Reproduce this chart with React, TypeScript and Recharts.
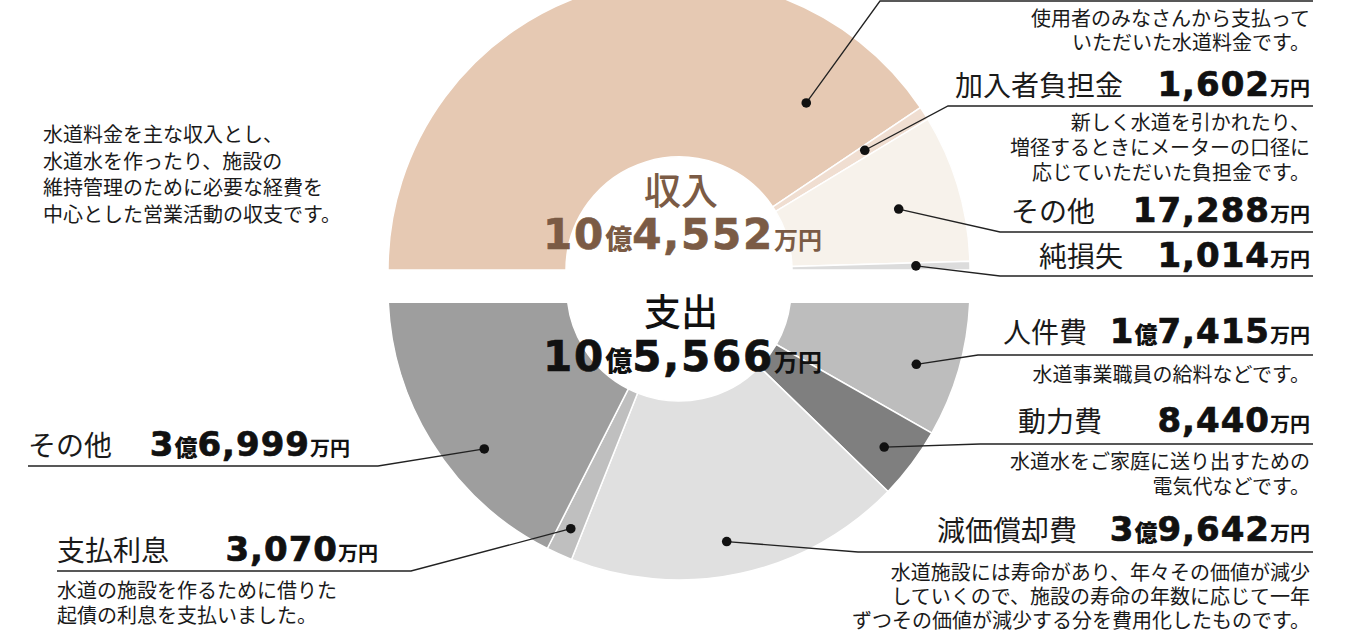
import React from "react";
import { PieChart, Pie, Cell } from "recharts";

const W = 1366;
const H = 642;
const CX = 679;
const TOP_CY = 270;
const BOTTOM_CY = 289;
const BOTTOM_CLIP = 303; // the lower half is cut flat at this y
const NO_MARGIN = { top: 0, right: 0, bottom: 0, left: 0 };

// 収入 (the last item, 純損失, fills the half up to the 支出 total)
const incomeNames = ["水道料金", "加入者負担金", "その他", "純損失"];
const incomeValues = [85662, 1602, 17288, 1014];
const incomeNotes = [
  ["使用者のみなさんから支払って", "いただいた水道料金です。"],
  ["新しく水道を引かれたり、", "増径するときにメーターの口径に", "応じていただいた負担金です。"],
  [],
  [],
];

// 支出
const expenseNames = ["人件費", "動力費", "減価償却費", "支払利息", "その他"];
const expenseValues = [17415, 8440, 39642, 3070, 36999];
const expenseNotes = [
  ["水道事業職員の給料などです。"],
  ["水道水をご家庭に送り出すための", "電気代などです。"],
  [
    "水道施設には寿命があり、年々その価値が減少",
    "していくので、施設の寿命の年数に応じて一年",
    "ずつその価値が減少する分を費用化したものです。",
  ],
  ["水道の施設を作るために借りた", "起債の利息を支払いました。"],
  [],
];

const introLines = [
  "水道料金を主な収入とし、",
  "水道水を作ったり、施設の",
  "維持管理のために必要な経費を",
  "中心とした営業活動の収支です。",
];

const incomeColors = ["#e6c9b3", "#f0ded1", "#f7f2eb", "#dcdcdc"];
const expenseColors = ["#bdbdbd", "#7f7f7f", "#e0e0e0", "#bfbfbf", "#9e9e9e"];

const JP = "'Noto Sans CJK JP', 'Noto Sans', sans-serif";
const NUM = "'DejaVu Sans', 'Liberation Sans', sans-serif";
const RAD = Math.PI / 180;

type Callout = {
  angle: number;
  r: number;
  elbow: [number, number];
  end: number;
  nameX?: number;
  nameAnchor?: "start" | "end";
  baseline?: number;
  valueX?: number;
  oku?: boolean;
  notesX: number;
  notesAnchor: "start" | "end";
  notesY: number[];
};

// label placement, page coordinates
const incomeCallouts: Callout[] = [
  { angle: 52.7, r: 210, elbow: [880, 1], end: 1313, notesX: 1310, notesAnchor: "end", notesY: [26, 50] },
  { angle: 32.8, r: 221, elbow: [948, 106], end: 1313, nameX: 1123, nameAnchor: "end", baseline: 96, valueX: 1310, notesX: 1310, notesAnchor: "end", notesY: [130, 155, 180] },
  { angle: 15.5, r: 228, elbow: [1000, 232], end: 1313, nameX: 1095, nameAnchor: "end", baseline: 222, valueX: 1310, oku: false, notesX: 1310, notesAnchor: "end", notesY: [] },
  { angle: 1.0, r: 237, elbow: [1000, 276], end: 1313, nameX: 1123, nameAnchor: "end", baseline: 267, valueX: 1310, notesX: 1310, notesAnchor: "end", notesY: [] },
];

const expenseCallouts: Callout[] = [
  { angle: -17.6, r: 249, elbow: [978, 355], end: 1313, nameX: 1087, nameAnchor: "end", baseline: 343, valueX: 1310, notesX: 1310, notesAnchor: "end", notesY: [382] },
  { angle: -37.6, r: 259, elbow: [980, 444], end: 1313, nameX: 1102, nameAnchor: "end", baseline: 432, valueX: 1310, notesX: 1310, notesAnchor: "end", notesY: [469, 494] },
  { angle: -79.3, r: 257, elbow: [858, 552], end: 1313, nameX: 1077, nameAnchor: "end", baseline: 541, valueX: 1310, notesX: 1310, notesAnchor: "end", notesY: [580, 604, 628] },
  { angle: -114.3, r: 263, elbow: [411, 571], end: 57, nameX: 57, nameAnchor: "start", baseline: 561, valueX: 378, notesX: 57, notesAnchor: "start", notesY: [598, 623] },
  { angle: -140.6, r: 252, elbow: [378, 466], end: 28, nameX: 28, nameAnchor: "start", baseline: 456, valueX: 350, notesX: 28, notesAnchor: "start", notesY: [] },
];

const sum = (a: number[]) => a.reduce((s, v) => s + v, 0);

const ValueText = ({ x, y, value, oku = true, big = 34, small = 20, fill = "#111", spacing = 1 }: any) => {
  const okuPart = oku && value >= 10000 ? Math.floor(value / 10000) : null;
  const rest = okuPart !== null ? value % 10000 : value;
  const digit = { fontFamily: NUM, fontWeight: 700, fontSize: big, stroke: fill, strokeWidth: 0.7, letterSpacing: spacing } as any;
  return (
    <text x={x} y={y} textAnchor="end" fill={fill}>
      {okuPart !== null && <tspan style={digit}>{okuPart}</tspan>}
      {okuPart !== null && (
        <tspan style={{ fontFamily: JP, fontWeight: 900, fontSize: small + 3 }}>億</tspan>
      )}
      <tspan style={digit}>{rest.toLocaleString("en-US")}</tspan>
      <tspan style={{ fontFamily: JP, fontWeight: 700, fontSize: small }}>万円</tspan>
    </text>
  );
};

const makeLabel = (callouts: Callout[], names: string[], values: number[], notes: string[][], offY: number) =>
  (props: any) => {
    const { cx, cy, index } = props;
    const c = callouts[index];
    if (!c) return null;
    const dx = cx + c.r * Math.cos(-c.angle * RAD);
    const dy = cy + c.r * Math.sin(-c.angle * RAD);
    const ey = c.elbow[1] - offY;
    return (
      <g>
        <polyline
          points={`${dx},${dy} ${c.elbow[0]},${ey} ${c.end},${ey}`}
          fill="none"
          stroke="#222"
          strokeWidth={1.3}
        />
        <circle cx={dx} cy={dy} r={4.8} fill="#111" />
        {c.baseline !== undefined && (
          <text
            x={c.nameX}
            y={c.baseline - offY}
            textAnchor={c.nameAnchor}
            style={{ fontFamily: JP, fontSize: 28, fontWeight: 400 }}
            fill="#1a1a1a"
          >
            {names[index]}
          </text>
        )}
        {c.baseline !== undefined && (
          <ValueText x={c.valueX} y={c.baseline - offY} value={values[index]} oku={c.oku !== false} />
        )}
        {notes[index].map((line, i) => (
          <text
            key={i}
            x={c.notesX}
            y={c.notesY[i] - offY}
            textAnchor={c.notesAnchor}
            style={{ fontFamily: JP, fontSize: 20 }}
            fill="#1a1a1a"
          >
            {line}
          </text>
        ))}
      </g>
    );
  };

const incomeData = incomeNames.map((name, i) => ({ name, value: incomeValues[i] }));
const expenseData = expenseNames.map((name, i) => ({ name, value: expenseValues[i] }));

export default function App() {
  const incomeTotal = sum(incomeValues.slice(0, incomeValues.length - 1));
  const expenseTotal = sum(expenseValues);

  return (
    <div style={{ position: "absolute", left: 0, top: 0, width: W, height: H, background: "#fff", overflow: "hidden" }}>
      {/* 支出 half, clipped flat at the top */}
      <div style={{ position: "absolute", left: 0, top: BOTTOM_CLIP, width: W, height: H - BOTTOM_CLIP, overflow: "hidden" }}>
        <PieChart width={W} height={H - BOTTOM_CLIP} margin={NO_MARGIN}>
          <Pie
            data={expenseData}
            dataKey="value"
            cx={CX}
            cy={BOTTOM_CY - BOTTOM_CLIP}
            innerRadius={112}
            outerRadius={291}
            startAngle={0}
            endAngle={-180}
            stroke="#fff"
            strokeWidth={1.5}
            labelLine={false}
            label={makeLabel(expenseCallouts, expenseNames, expenseValues, expenseNotes, BOTTOM_CLIP)}
            isAnimationActive={false}
          >
            {expenseData.map((d, i) => (
              <Cell key={d.name + i} fill={expenseColors[i]} />
            ))}
          </Pie>
        </PieChart>
      </div>

      {/* 収入 half */}
      <div style={{ position: "absolute", left: 0, top: 0, width: W, height: H }}>
        <PieChart width={W} height={H} margin={NO_MARGIN}>
          <Pie
            data={incomeData}
            dataKey="value"
            cx={CX}
            cy={TOP_CY}
            innerRadius={113}
            outerRadius={291}
            startAngle={180}
            endAngle={0}
            stroke="#fff"
            strokeWidth={1.5}
            labelLine={false}
            label={makeLabel(incomeCallouts, incomeNames, incomeValues, incomeNotes, 0)}
            isAnimationActive={false}
          >
            {incomeData.map((d, i) => (
              <Cell key={d.name + i} fill={incomeColors[i]} />
            ))}
          </Pie>
        </PieChart>
      </div>

      {/* titles and intro */}
      <svg width={W} height={H} style={{ position: "absolute", left: 0, top: 0, pointerEvents: "none" }}>
        <text x={681} y={205} textAnchor="middle" fill="#7b5b45" style={{ fontFamily: JP, fontSize: 37, fontWeight: 500 }}>
          収入
        </text>
        <ValueText x={822} y={249} value={incomeTotal} big={42} small={24} fill="#7b5b45" spacing={1.8} />
        <text x={681} y={326} textAnchor="middle" fill="#111" style={{ fontFamily: JP, fontSize: 37, fontWeight: 500 }}>
          支出
        </text>
        <ValueText x={822} y={371} value={expenseTotal} big={42} small={24} fill="#111" spacing={1.8} />
        {introLines.map((line, i) => (
          <text key={i} x={43} y={142 + i * 26.5} fill="#1a1a1a" style={{ fontFamily: JP, fontSize: 20 }}>
            {line}
          </text>
        ))}
      </svg>
    </div>
  );
}
